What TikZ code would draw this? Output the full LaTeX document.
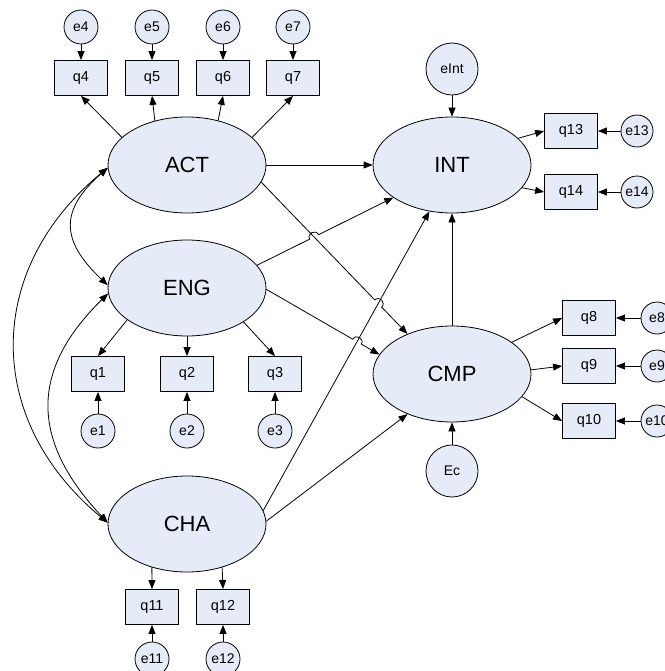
\documentclass[tikz,border=0pt]{standalone}
\usepackage{fontspec}
\setmainfont{Liberation Sans}
\usetikzlibrary{arrows.meta,calc,shapes.geometric}
\definecolor{nodefill}{RGB}{229,235,247}
\begin{document}
\begin{tikzpicture}[x=1pt,y=-1pt,
  arr/.style={-{Triangle[length=9pt,width=7pt]}, line width=0.8pt},
  cov/.style={{Triangle[length=9pt,width=7pt]}-{Triangle[length=9pt,width=7pt]}, line width=0.8pt},
  latent/.style={ellipse, draw, line width=0.8pt, fill=nodefill, minimum width=158pt, minimum height=96pt, inner sep=0pt, font=\fontsize{22}{26}\selectfont},
  obs/.style={rectangle, draw, line width=0.8pt, fill=nodefill, minimum width=53pt, minimum height=35pt, inner sep=0pt, font=\fontsize{14.5}{17}\selectfont},
  err/.style={circle, draw, line width=0.8pt, fill=nodefill, minimum size=34pt, inner sep=0pt, font=\fontsize{14}{16}\selectfont},
  errs/.style={err, minimum size=32pt},
  errb/.style={err, minimum size=52pt},
]
\useasboundingbox (0,0) rectangle (664,671);

% latent variables
\node[latent] (ACT) at (187,165) {ACT};
\node[latent] (ENG) at (187,288) {ENG};
\node[latent] (CHA) at (187,524) {CHA};
\node[latent] (INT) at (452,165) {INT};
\node[latent] (CMP) at (452,374) {CMP};

% structural errors
\node[errb] (eInt) at (452,69) {eInt};
\node[errb] (Ec) at (452,471) {Ec};

% ACT indicators
\node[obs] (q4) at (81,78) {q4};
\node[obs] (q5) at (152,78) {q5};
\node[obs] (q6) at (223,78) {q6};
\node[obs] (q7) at (293,78) {q7};
\node[err] (e4) at (81,27) {e4};
\node[err] (e5) at (152,27) {e5};
\node[err] (e6) at (223,27) {e6};
\node[err] (e7) at (293,27) {e7};

% ENG indicators
\node[obs] (q1) at (98,374) {q1};
\node[obs] (q2) at (187,374) {q2};
\node[obs] (q3) at (275,374) {q3};
\node[err] (e1) at (98,431) {e1};
\node[err] (e2) at (187,431) {e2};
\node[err] (e3) at (275,431) {e3};

% CHA indicators
\node[obs] (q11) at (152,607) {q11};
\node[obs] (q12) at (223,607) {q12};
\node[err] (e11) at (152,659) {e11};
\node[err] (e12) at (223,659) {e12};

% INT indicators
\node[obs] (q13) at (571,131) {q13};
\node[obs] (q14) at (571,192) {q14};
\node[errs] (e13) at (637,131) {e13};
\node[errs] (e14) at (637,192) {e14};

% CMP indicators
\node[obs] (q8) at (589,318) {q8};
\node[obs] (q9) at (589,366) {q9};
\node[obs] (q10) at (589,421) {q10};
\node[errs] (e8) at (657,318) {e8};
\node[errs] (e9) at (657,366) {e9};
\node[errs] (e10) at (657,421) {e10};

% measurement arrows
\draw[arr] (ACT.157) -- (q4.south);
\draw[arr] (ACT.126) -- (q5.south);
\draw[arr] (ACT.55) -- (q6.south);
\draw[arr] (ACT.23) -- (q7.south);
\foreach \i in {4,5,6,7} \draw[arr] (e\i) -- (q\i);

\draw[arr] (ENG.208) -- (q1.north);
\draw[arr] (ENG.south) -- (q2.north);
\draw[arr] (ENG.-31) -- (q3.north);
\foreach \i in {1,2,3} \draw[arr] (e\i) -- (q\i);

\draw[arr] (CHA.231) -- (q11.north);
\draw[arr] (CHA.309) -- (q12.north);
\foreach \i in {11,12} \draw[arr] (e\i) -- (q\i);

\draw[arr] (INT.22) -- (q13.west);
\draw[arr] (INT.-18) -- (q14.west);
\foreach \i in {13,14} \draw[arr] (e\i) -- (q\i);

\draw[arr] (CMP.28) -- (q8.west);
\draw[arr] (CMP.3) -- (q9.west);
\draw[arr] (CMP.-18) -- (q10.west);
\foreach \i in {8,9,10} \draw[arr] (e\i) -- (q\i);

\draw[arr] (eInt) -- (INT);
\draw[arr] (Ec) -- (CMP);

% structural paths
\coordinate (a1s) at (ACT.-13);
\coordinate (a1e) at (CMP.138);
\coordinate (g1s) at (ENG.18);
\coordinate (g1e) at (INT.209);
\coordinate (g2s) at (ENG.-1);
\coordinate (g2e) at (CMP.165);
\coordinate (c1s) at (CHA.10);
\coordinate (c1e) at (INT.244);

\coordinate (X1) at (intersection of g1s--g1e and a1s--a1e);
\coordinate (X2) at (intersection of a1s--a1e and c1s--c1e);
\coordinate (X3) at (intersection of g2s--g2e and c1s--c1e);

\coordinate (h1a) at ($(X1)!5pt!(g1s)$);
\coordinate (h1b) at ($(X1)!5pt!(g1e)$);
\coordinate (h2a) at ($(X2)!5pt!(a1s)$);
\coordinate (h2b) at ($(X2)!5pt!(a1e)$);
\coordinate (h3a) at ($(X3)!5pt!(g2s)$);
\coordinate (h3b) at ($(X3)!5pt!(g2e)$);

\draw[arr] (ACT.east) -- (INT.west);
\draw[arr] (g1s) -- (h1a) .. controls ($(h1a)!6.5pt!90:(X1)$) and ($(h1b)!6.5pt!-90:(X1)$) .. (h1b) -- (g1e);
\draw[arr] (a1s) -- (h2a) .. controls ($(h2a)!6.5pt!90:(X2)$) and ($(h2b)!6.5pt!-90:(X2)$) .. (h2b) -- (a1e);
\draw[arr] (g2s) -- (h3a) .. controls ($(h3a)!6.5pt!90:(X3)$) and ($(h3b)!6.5pt!-90:(X3)$) .. (h3b) -- (g2e);
\draw[arr] (c1s) -- (c1e);
\draw[arr] (CHA.2) -- (CMP.222);
\draw[arr] (CMP.north) -- (INT.south);

% covariances
\draw[cov] (ACT.182) .. controls (60,210) and (60,240) .. (ENG.178);
\draw[cov] (ENG.184) .. controls (30,370) and (30,440) .. (CHA.179);
\draw[cov] (ACT.182) .. controls (-16,270) and (-16,420) .. (CHA.179);
\end{tikzpicture}
\end{document}
